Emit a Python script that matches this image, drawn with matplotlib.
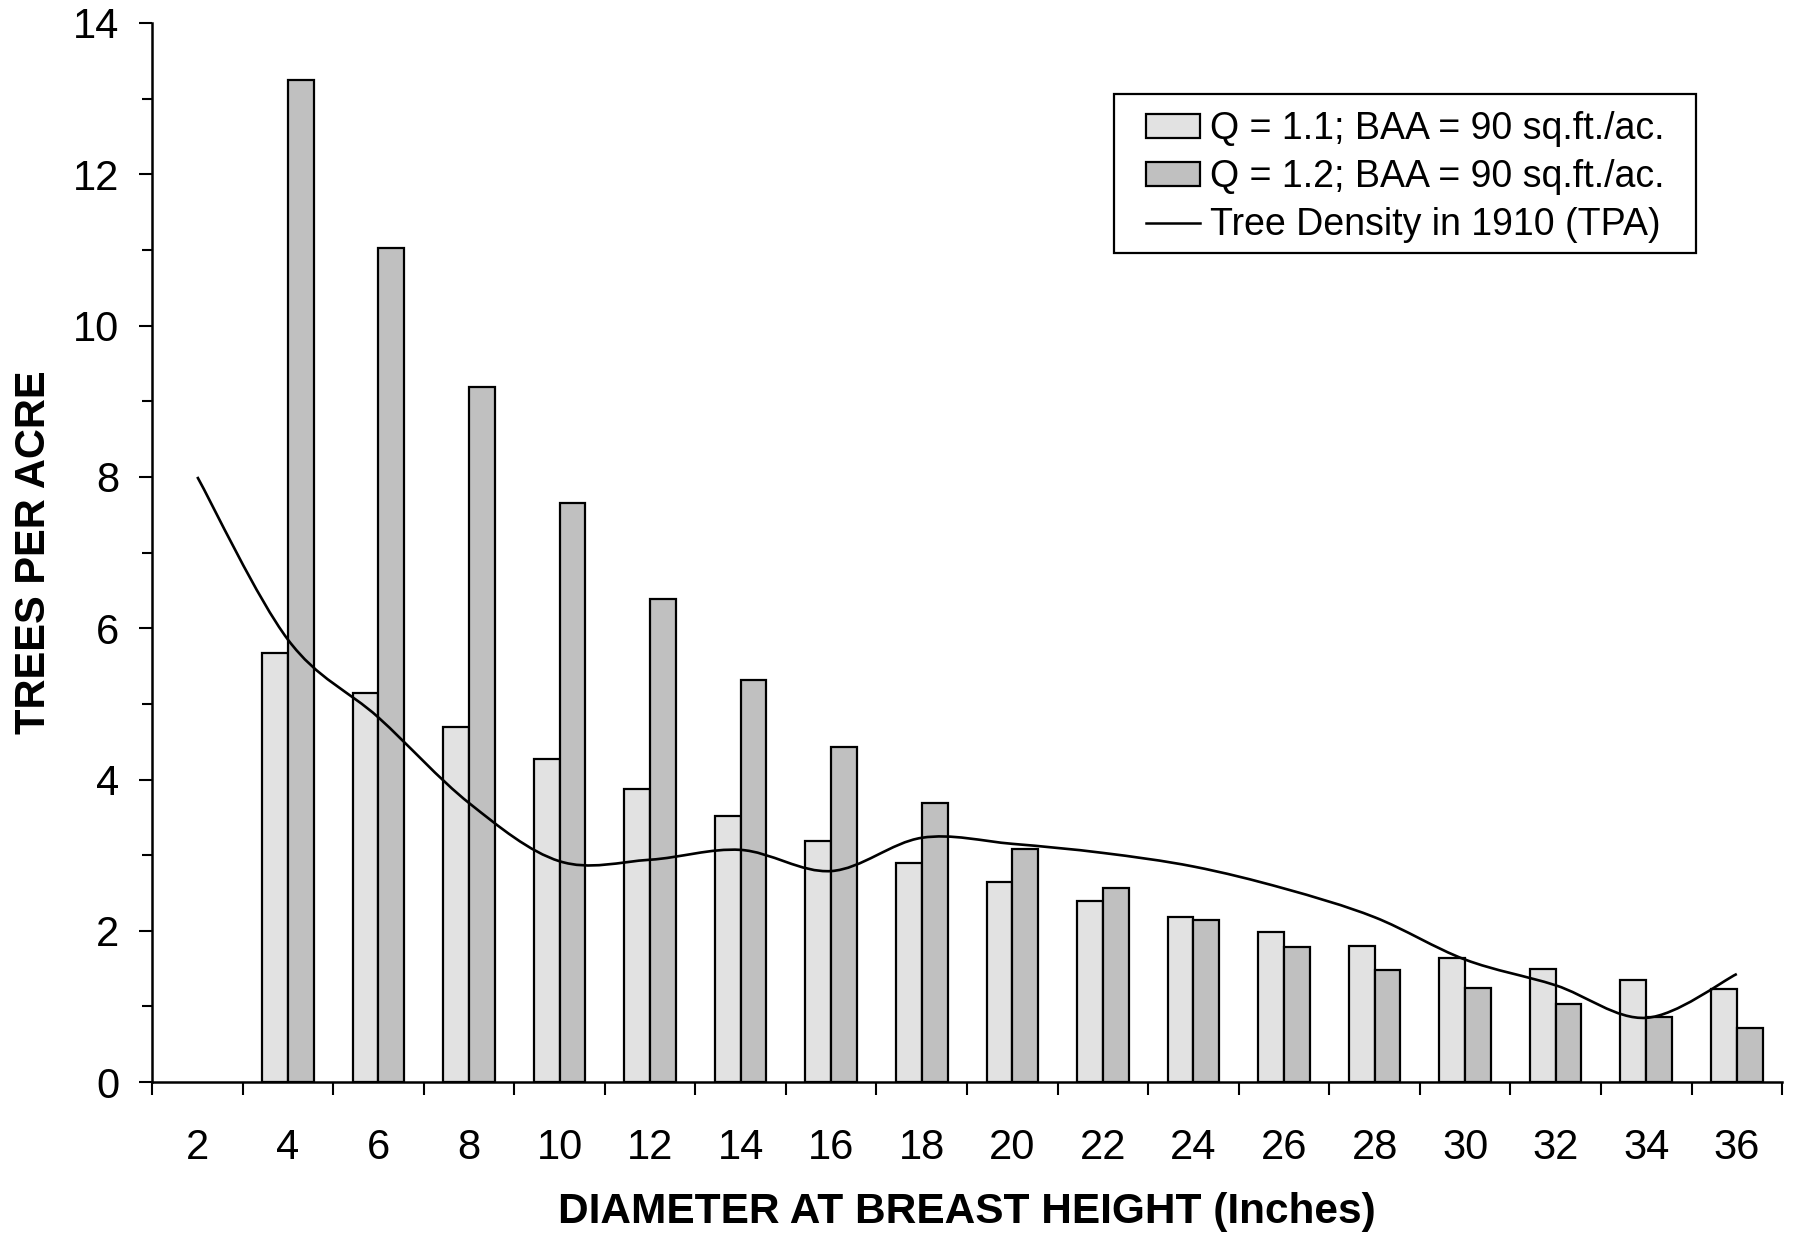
import matplotlib.pyplot as plt
import numpy as np
from matplotlib.path import Path
from matplotlib.patches import PathPatch, Patch, Rectangle
from matplotlib.lines import Line2D

plt.rcParams['font.family'] = ['Liberation Sans', 'DejaVu Sans']

# diameter classes (inches)
dbh = [2, 4, 6, 8, 10, 12, 14, 16, 18, 20, 22, 24, 26, 28, 30, 32, 34, 36]
# bars start at 4 in.
q11 = [5.67, 5.15, 4.69, 4.27, 3.87, 3.52, 3.19, 2.90, 2.64, 2.40, 2.18, 1.98, 1.80, 1.64, 1.49, 1.35, 1.23]
q12 = [13.24, 11.03, 9.19, 7.66, 6.38, 5.32, 4.43, 3.69, 3.08, 2.56, 2.14, 1.78, 1.48, 1.24, 1.03, 0.86, 0.72]
tpa_1910 = [8.0, 5.85, 4.82, 3.69, 2.92, 2.94, 3.07, 2.79, 3.23, 3.15, 3.03, 2.85, 2.56, 2.18, 1.62, 1.28, 0.85, 1.43]

fig = plt.figure(figsize=(17.97, 12.41), dpi=100)
ax = fig.add_axes([0.0846, 0.128, 0.9071, 0.8535])

pos = np.arange(len(dbh))
w = 0.285
ax.bar(pos[1:] - w / 2, q11, width=w, color='#e2e2e2', edgecolor='black', linewidth=1.6, zorder=2)
ax.bar(pos[1:] + w / 2, q12, width=w, color='#c0c0c0', edgecolor='black', linewidth=1.6, zorder=2)

# smoothed line (Catmull-Rom style bezier, like the spreadsheet smoothing)
pts = np.column_stack([pos, tpa_1910]).astype(float)
ext = np.vstack([pts[0], pts, pts[-1]])
verts = [tuple(pts[0])]
codes = [Path.MOVETO]
for i in range(len(pts) - 1):
    p0, p1, p2, p3 = ext[i], ext[i + 1], ext[i + 2], ext[i + 3]
    c1 = p1 + (p2 - p0) / 6
    c2 = p2 - (p3 - p1) / 6
    verts += [tuple(c1), tuple(c2), tuple(p2)]
    codes += [Path.CURVE4] * 3
ax.add_patch(PathPatch(Path(verts, codes), facecolor='none', edgecolor='black', linewidth=1.9, zorder=3))

ax.set_xlim(-0.5, len(dbh) - 0.5)
ax.set_ylim(0, 14)
for s in ['top', 'right']:
    ax.spines[s].set_visible(False)
for s in ['left', 'bottom']:
    ax.spines[s].set_linewidth(1.8)

ax.set_xticks(np.arange(len(dbh) + 1) - 0.5)
ax.set_xticklabels([])
ax.set_xticks(pos, minor=True)
ax.set_xticklabels([str(d) for d in dbh], minor=True)
ax.tick_params(axis='x', which='major', direction='out', length=9.5, width=1.5)
ax.tick_params(axis='x', which='minor', length=0, pad=33, labelsize=30)

ax.set_yticks(np.arange(0, 15, 2))
ax.set_yticks(np.arange(0, 15, 1), minor=True)
ax.tick_params(axis='y', which='major', direction='out', length=9.5, width=1.5, pad=14, labelsize=30)
ax.tick_params(axis='y', which='minor', direction='out', length=7, width=1.5)

ax.set_xlabel('DIAMETER AT BREAST HEIGHT (Inches)', fontsize=30.5, fontweight='bold')
ax.set_ylabel('TREES PER ACRE', fontsize=30, fontweight='bold')
ax.xaxis.set_label_coords(0.5, -0.104)
ax.yaxis.set_label_coords(-0.060, 0.5)

# legend box
ax.add_patch(Rectangle((0.590, 0.783), 0.357, 0.150, transform=ax.transAxes, facecolor='white',
                       edgecolor='black', linewidth=1.6, zorder=4))
handles = [Patch(facecolor='#e2e2e2', edgecolor='black', linewidth=1.6),
           Patch(facecolor='#c0c0c0', edgecolor='black', linewidth=1.6),
           Line2D([], [], color='black', linewidth=1.8)]
labels = ['Q = 1.1; BAA = 90 sq.ft./ac.', 'Q = 1.2; BAA = 90 sq.ft./ac.', 'Tree Density in 1910 (TPA)']
leg = ax.legend(handles, labels, loc='upper right', bbox_to_anchor=(0.9276, 0.9165), borderaxespad=0,
                fontsize=27, frameon=False, handlelength=1.45, handleheight=0.6,
                handletextpad=0.25, labelspacing=0.32, borderpad=0)
leg.set_zorder(5)

fig.savefig('out.png', dpi=100)
